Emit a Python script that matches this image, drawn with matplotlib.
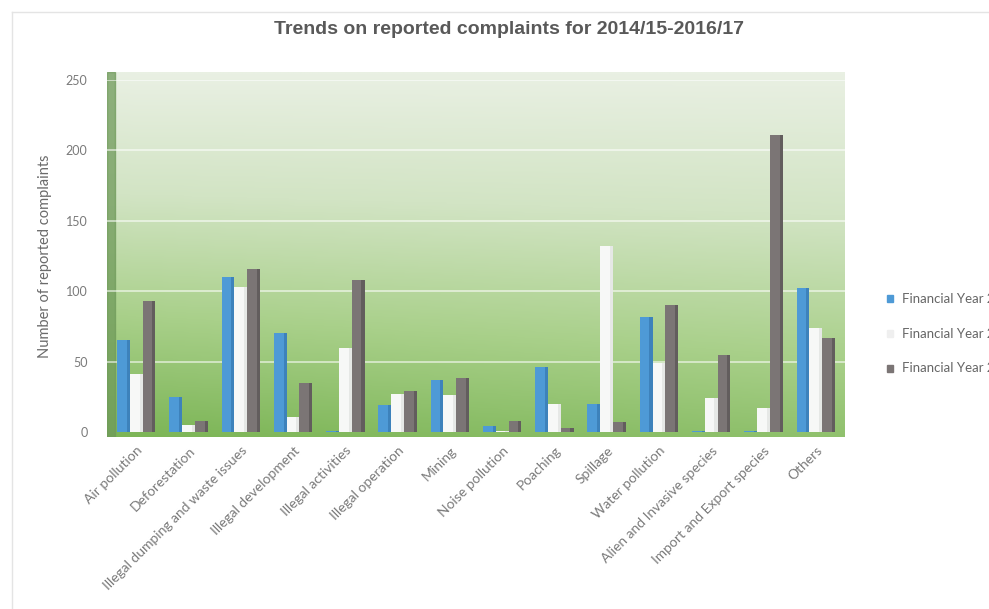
import numpy as np
import matplotlib
matplotlib.use("Agg")
import matplotlib.pyplot as plt
from matplotlib.colors import LinearSegmentedColormap
from matplotlib.patches import Rectangle
from matplotlib.lines import Line2D

categories = [
    "Air pollution", "Deforestation", "Illegal dumping and waste issues",
    "Illegal development", "Illegal activities", "Illegal operation",
    "Mining", "Noise pollution", "Poaching", "Spillage", "Water pollution",
    "Alien and Invasive species", "Import and Export species", "Others",
]
fy_2014_15 = [65, 25, 110, 70, 1, 19, 37, 4, 46, 20, 82, 1, 1, 102]
fy_2015_16 = [41, 5, 103, 11, 60, 27, 26, 1, 20, 132, 49, 24, 17, 74]
fy_2016_17 = [93, 8, 116, 35, 108, 29, 38, 8, 3, 7, 90, 55, 211, 67]
series_names = ["Financial Year 2014/15", "Financial Year 2015/16", "Financial Year 2016/17"]
y_ticks = [0, 50, 100, 150, 200, 250]

face_colors = ["#4e9ad6", "#f7f8f7", "#7b7575"]
side_colors = ["#2f6fa6", "#d9dcd9", "#4f4a4a"]

W, H = 989, 609
fig = plt.figure(figsize=(W / 100, H / 100), dpi=100)
fig.patch.set_facecolor("white")

def fx(px):
    return px / W

def fy(py):
    return 1 - py / H

# faint chart-area frame
fig.add_artist(Line2D([fx(12), fx(12)], [fy(12), fy(609)], color="#e4e4e4", lw=1.0))
fig.add_artist(Line2D([fx(12), fx(989)], [fy(12), fy(12)], color="#e4e4e4", lw=1.0))

# green gradient back wall
bg = fig.add_axes([fx(107), fy(437), fx(845 - 107), fy(72) - fy(437)])
grad_cmap = LinearSegmentedColormap.from_list(
    "wall", ["#e9f0e3", "#d2e4c4", "#a9d08a", "#7cb556"])
vert = np.linspace(0, 1, 256)[:, None]
horiz = np.linspace(0, 1, 64)[None, :]
field = vert * 0.85 + 0.15 * vert * (1 - horiz)
bg.imshow(field, aspect="auto", cmap=grad_cmap, extent=[0, 1, 0, 1], origin="upper")
bg.add_patch(Rectangle((0, 0), 0.011, 1, color="#6f9a5a", alpha=0.75))
bg.set_xlim(0, 1)
bg.set_ylim(0, 1)
bg.axis("off")

# main plotting axes
ax = fig.add_axes([fx(107), fy(432), fx(845 - 107), fy(80) - fy(432)])
ax.set_facecolor("none")
ax.set_ylim(0, 250)
ax.set_xlim(-0.56, 13.56)

x = np.arange(len(categories))
bw = 0.245
side = 0.06
all_series = [fy_2014_15, fy_2015_16, fy_2016_17]
for i, vals in enumerate(all_series):
    offs = (i - 1) * bw
    ax.bar(x + offs, vals, width=bw, color=face_colors[i], zorder=3,
           label=series_names[i], linewidth=0)
    ax.bar(x + offs + bw / 2 - side / 2, vals, width=side, color=side_colors[i],
           zorder=4, linewidth=0, alpha=0.55)

for t in y_ticks[1:]:
    ax.axhline(t, color="white", lw=1.4, alpha=0.55, zorder=1)

ax.set_yticks(y_ticks)
ax.set_yticklabels([str(t) for t in y_ticks], fontsize=9, color="#7a7a7a", family="Lato")
ax.tick_params(axis="y", length=0, pad=14)
ax.set_xticks(x)
ax.set_xticklabels(categories, rotation=45, ha="right", rotation_mode="anchor",
                   fontsize=10, color="#7a7a7a", family="Lato")
ax.tick_params(axis="x", length=0, pad=9)
for s in ax.spines.values():
    s.set_visible(False)

ax.set_ylabel("Number of reported complaints", fontsize=10.5, color="#6a6a6a",
              family="Lato", labelpad=10)

fig.text(fx(509), fy(30), "Trends on reported complaints for 2014/15-2016/17",
         ha="center", va="center", fontsize=14, fontweight="bold",
         color="#595959", family="Liberation Sans")

# legend entries
leg_y = [298, 333, 368]
for i, name in enumerate(series_names):
    fig.add_artist(Rectangle((fx(887), fy(leg_y[i] + 4)), fx(6), fy(leg_y[i] - 3) - fy(leg_y[i] + 4),
                             color=face_colors[i] if i != 1 else "#efefef"))
    fig.text(fx(902), fy(leg_y[i]), name, ha="left", va="center",
             fontsize=9.5, color="#666666", family="Lato")

fig.savefig("out.png", dpi=100)
